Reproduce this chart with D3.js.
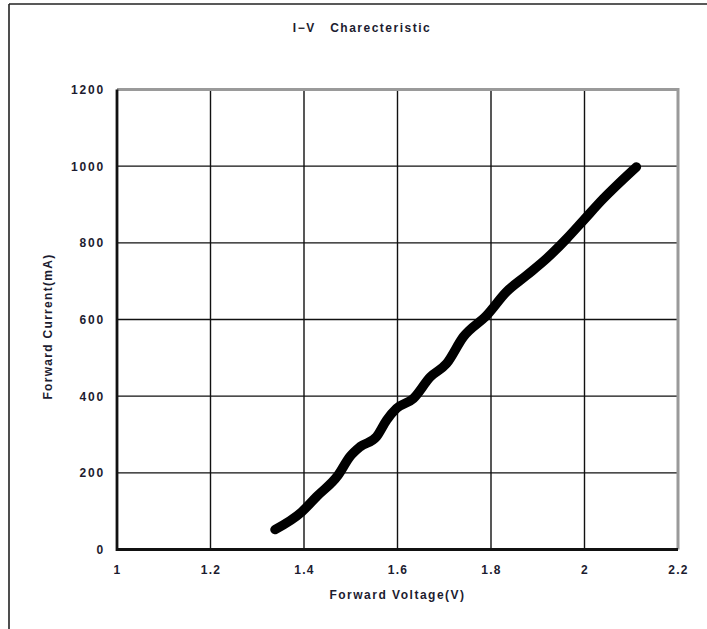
<!DOCTYPE html>
<html>
<head>
<meta charset="utf-8">
<script src="https://cdn.jsdelivr.net/npm/d3@7"></script>
<style>
  html, body { margin: 0; padding: 0; background: #fff; }
  svg { display: block; }
  text { font-family: "Liberation Sans", Arial, sans-serif; fill: #1c1c30; }
</style>
</head>
<body>
<svg id="chart" width="707" height="629"></svg>
<script>
// ---- data ----
const chartTitle = "I\u2212V   Charecteristic";
const xTitle = "Forward Voltage(V)";
const yTitle = "Forward Current(mA)";
const xTicks = [1, 1.2, 1.4, 1.6, 1.8, 2, 2.2];
const xTickLabels = ["1", "1.2", "1.4", "1.6", "1.8", "2", "2.2"];
const yTicks = [0, 200, 400, 600, 800, 1000, 1200];
const yTickLabels = ["0", "200", "400", "600", "800", "1000", "1200"];
const voltage = [1.338, 1.395, 1.427, 1.473, 1.498, 1.520, 1.555, 1.577, 1.598, 1.634, 1.670,
                 1.705, 1.741, 1.791, 1.833, 1.876, 1.919, 1.962, 1.998, 2.040, 2.069, 2.111];
const current = [52, 98, 138, 194, 242, 268, 294, 338, 368, 394, 450,
                 485, 555, 611, 672, 715, 759, 811, 859, 915, 950, 998];

// ---- layout ----
const L = 117, R = 678, T = 89.5, B = 549.5;
const svg = d3.select("#chart");

const x = d3.scaleLinear().domain([1, 2.2]).range([L, R]);
const y = d3.scaleLinear().domain([0, 1200]).range([B, T]);

// outer frame (top and left edges)
svg.append("line").attr("x1", 9).attr("x2", 707).attr("y1", 4).attr("y2", 4)
  .attr("stroke", "#222").attr("stroke-width", 1.6);
svg.append("line").attr("x1", 9).attr("x2", 9).attr("y1", 4).attr("y2", 629)
  .attr("stroke", "#222").attr("stroke-width", 1.6);

// grid lines
svg.append("g").selectAll("line").data(xTicks.slice(1, -1)).join("line")
  .attr("x1", d => x(d)).attr("x2", d => x(d)).attr("y1", T).attr("y2", B)
  .attr("stroke", "#111").attr("stroke-width", 1.4);
svg.append("g").selectAll("line").data(yTicks.slice(1, -1)).join("line")
  .attr("x1", L).attr("x2", R).attr("y1", d => y(d)).attr("y2", d => y(d))
  .attr("stroke", "#111").attr("stroke-width", 1.4);

// plot border top/right (gray)
svg.append("path")
  .attr("d", `M${L},${T}H${R}V${B}`)
  .attr("fill", "none").attr("stroke", "#9a9a9a").attr("stroke-width", 3);

// axes (labels)
const xAxis = d3.axisBottom(x).tickValues(xTicks)
  .tickFormat((d, i) => xTickLabels[i]).tickSize(0).tickPadding(0);
const gx = svg.append("g").attr("transform", `translate(0,${B})`).call(xAxis);
gx.select(".domain").remove();
gx.selectAll("text").attr("y", 16).attr("dy", "0.71em")
  .attr("font-size", 12).attr("font-weight", "bold").style("letter-spacing", "1.2px");

const yAxis = d3.axisLeft(y).tickValues(yTicks)
  .tickFormat((d, i) => yTickLabels[i]).tickSize(0).tickPadding(0);
const gy = svg.append("g").attr("transform", `translate(${L},0)`).call(yAxis);
gy.select(".domain").remove();
gy.selectAll("text").attr("x", -12).attr("dy", "0.32em")
  .attr("font-size", 12).attr("font-weight", "bold").style("letter-spacing", "1.8px");

// axis lines (black left & bottom)
svg.append("path")
  .attr("d", `M${L},${T}V${B}H${R}`)
  .attr("fill", "none").attr("stroke", "#111").attr("stroke-width", 2.8);

// curve
const pts = voltage.map((v, i) => [v, current[i]]);
const line = d3.line().x(d => x(d[0])).y(d => y(d[1])).curve(d3.curveMonotoneX);
svg.append("path").datum(pts).attr("d", line)
  .attr("fill", "none").attr("stroke", "#000").attr("stroke-width", 9.5)
  .attr("stroke-linecap", "round").attr("stroke-linejoin", "round");

// titles
svg.append("text").attr("x", 362).attr("y", 28).attr("dy", "0.35em")
  .attr("text-anchor", "middle").attr("font-size", 12).attr("font-weight", "bold")
  .style("letter-spacing", "1.5px").style("white-space", "pre").text(chartTitle);
svg.append("text").attr("x", 397.5).attr("y", 595).attr("dy", "0.35em")
  .attr("text-anchor", "middle").attr("font-size", 12).attr("font-weight", "bold")
  .style("letter-spacing", "1.5px").text(xTitle);
svg.append("text").attr("transform", `translate(48,${(T + B) / 2 + 7}) rotate(-90)`)
  .attr("dy", "0.35em").attr("text-anchor", "middle").attr("font-size", 12)
  .attr("font-weight", "bold").style("letter-spacing", "1.3px").text(yTitle);
</script>
</body>
</html>
